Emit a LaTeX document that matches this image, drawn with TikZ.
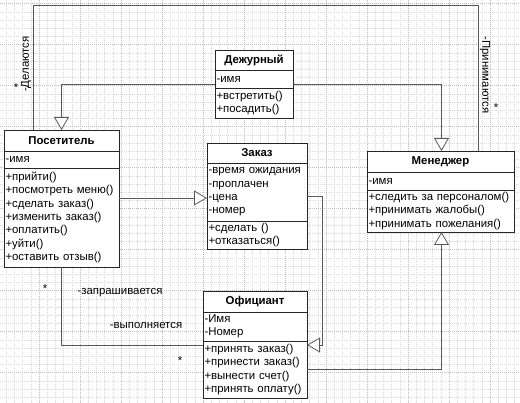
\documentclass[tikz,border=0pt]{standalone}
\usepackage{fontspec}
\setmainfont{Liberation Sans}
\usetikzlibrary{
  arrows.meta,
  positioning,
  calc
}

\begin{document}
\begin{tikzpicture}[
  x=1pt, y=-1pt,
  every node/.style={font=\fontsize{11.4}{13.3}\selectfont},
  part/.style={draw=black!85, fill=white, line width=0.9pt, outer sep=0pt,
               text width=#1, inner xsep=1.5pt, inner ysep=0pt, align=left},
  head/.style={part=#1, align=center, font=\fontsize{11.4}{13.3}\selectfont\bfseries},
  link/.style={draw=black!65, line width=0.8pt},
  gen/.style={link, -{Triangle[fill=white, length=13pt, width=15pt]}},
  lbl/.style={inner sep=0pt},
  gridminor/.style={draw=black!15, line width=0.5pt, dash pattern=on 1pt off 1pt},
  gridmajor/.style={draw=black!26, line width=0.5pt, dash pattern=on 1pt off 1pt}
]
\useasboundingbox (0,0) rectangle (520,403);

% ── Grid ──
\foreach \i in {0,...,63}
  \draw[gridminor] (-2+\i*8.2,0) -- (-2+\i*8.2,403);
\foreach \i in {0,...,49}
  \draw[gridminor] (0,3.7+\i*8.2) -- (520,3.7+\i*8.2);
\foreach \i in {1,...,12}
  \draw[gridmajor] (-2+\i*41,0) -- (-2+\i*41,403);
\foreach \i in {0,...,9}
  \draw[gridmajor] (0,3.7+\i*41) -- (520,3.7+\i*41);

% ── Посетитель ──
\node[head=112pt, minimum height=21pt, anchor=north west] (visitor) at (4,130) {Посетитель};
\node[part=112pt, minimum height=17pt, below=0pt of visitor] (visitor-a) {-имя};
\node[part=112pt, minimum height=99pt, below=0pt of visitor-a] (visitor-o)
  {+прийти()\\+посмотреть меню()\\+сделать заказ()\\+изменить заказ()\\+оплатить()\\+уйти()\\+оставить отзыв()};

% ── Дежурный ──
\node[head=75pt, minimum height=20pt, anchor=north west] (host) at (215,50) {Дежурный};
\node[part=75pt, minimum height=18pt, below=0pt of host] (host-a) {-имя};
\node[part=75pt, minimum height=30pt, below=0pt of host-a] (host-o)
  {+встретить()\\+посадить()};

% ── Заказ ──
\node[head=97pt, minimum height=20pt, anchor=north west] (order) at (207,143) {Заказ};
\node[part=97pt, minimum height=58pt, below=0pt of order] (order-a)
  {-время ожидания\\-проплачен\\-цена\\-номер};
\node[part=97pt, minimum height=28pt, below=0pt of order-a] (order-o)
  {+сделать ()\\+отказаться()};

% ── Менеджер ──
\node[head=144pt, minimum height=21pt, anchor=north west] (manager) at (367,151) {Менеджер};
\node[part=144pt, minimum height=18pt, below=0pt of manager] (manager-a) {-имя};
\node[part=144pt, minimum height=42pt, below=0pt of manager-a] (manager-o)
  {+следить за персоналом()\\+принимать жалобы()\\+принимать пожелания()};

% ── Официант ──
\node[head=101pt, minimum height=21pt, anchor=north west] (waiter) at (203,291) {Официант};
\node[part=101pt, minimum height=29pt, below=0pt of waiter] (waiter-a) {-Имя\\-Номер};
\node[part=101pt, minimum height=57pt, below=0pt of waiter-a] (waiter-o)
  {+принять заказ()\\+принести заказ()\\+вынести счет()\\+принять оплату()};

% ── Associations ──
\draw[link] ([xshift=29pt]visitor.north west) -- ++(0,-125) -| ([xshift=111pt]manager.north west);
\draw[link] (visitor-o.south) |- ([yshift=-4pt]waiter-o.north west);

% ── Generalizations ──
\coordinate (orderIn) at ([yshift=-6pt]order-a.west);
\draw[gen] ([yshift=-5pt]host-a.west) -| (visitor.north);
\draw[gen] ([yshift=-5pt]host-a.east) -| ([xshift=1pt]manager.north);
\draw[gen] (visitor-o.east |- orderIn) -- (orderIn);
\draw[gen] ([yshift=-4pt]order-a.east) -- ++(15,0) |- ([yshift=-4pt]waiter-o.north east);
\draw[gen] (waiter-o.east) -| ([xshift=1pt]manager-o.south);

% ── Role labels ──
\node[lbl, rotate=90] (doLbl) at (26,64) {-Делаются};
\node[lbl] (doMult) at (16,88) {*};
\node[lbl, rotate=-90] (takeLbl) at (485,75) {-Принимаются};
\node[lbl] (takeMult) at (496,108) {*};
\node[lbl] (askLbl) at (120,293) {-запрашивается};
\node[lbl] (askMult) at (45,289) {*};
\node[lbl] (doneLbl) at (146,325) {-выполняется};
\node[lbl] (doneMult) at (180,361) {*};

\end{tikzpicture}
\end{document}
